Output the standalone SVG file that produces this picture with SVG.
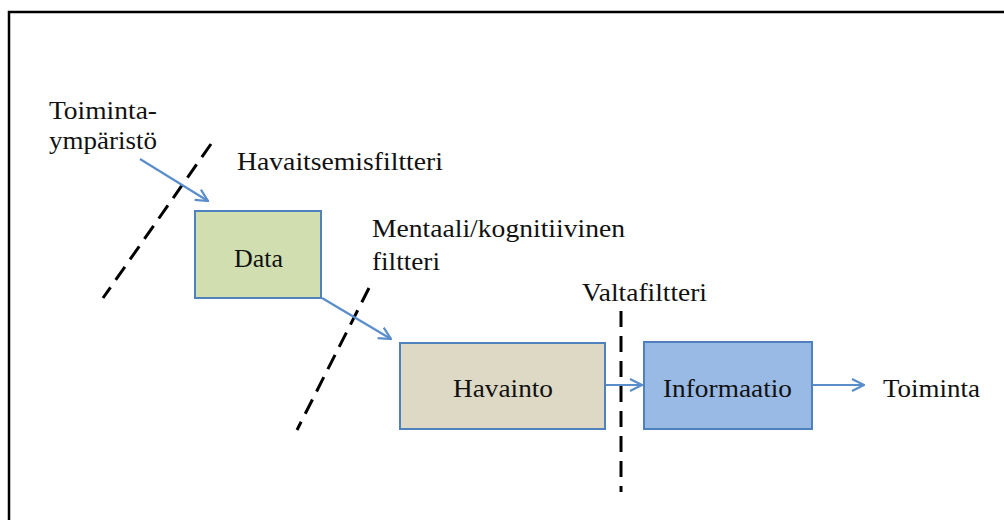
<svg xmlns="http://www.w3.org/2000/svg" width="1004" height="520" viewBox="0 0 1004 520">
<style>
text{font-family:"Liberation Serif","Times New Roman",serif;font-size:26px;fill:#111;}
.box{stroke:#4f81bd;stroke-width:2;}
.conn{stroke:#5a8ecb;stroke-width:2.2;fill:none;}
.filter{stroke:#000;stroke-width:3;stroke-dasharray:16 9;fill:none;}
</style>
<defs>
<marker id="arr" viewBox="0 0 14 14" refX="13" refY="7" markerWidth="14" markerHeight="14" markerUnits="userSpaceOnUse" orient="auto">
<path d="M1,1 L13,7 L1,13" fill="none" stroke="#5a8ecb" stroke-width="2.2"/>
</marker>
</defs>
<rect width="1004" height="520" fill="#fff"/>
<path d="M9,520 V12 H1004" fill="none" stroke="#000" stroke-width="2.5"/>

<g id="filters">
<line class="filter" x1="211" y1="144" x2="103" y2="298"/>
<line class="filter" x1="369" y1="288" x2="297" y2="430"/>
<line class="filter" x1="621" y1="311" x2="621" y2="492"/>
</g>

<g id="connectors">
<line class="conn" x1="140" y1="159" x2="208" y2="201" marker-end="url(#arr)"/>
<line class="conn" x1="322" y1="298" x2="391" y2="339" marker-end="url(#arr)"/>
<line class="conn" x1="606" y1="385" x2="642" y2="385" marker-end="url(#arr)"/>
<line class="conn" x1="813" y1="385" x2="864" y2="385" marker-end="url(#arr)"/>
</g>

<g id="node-data">
<rect class="box" x="195" y="211" width="126" height="87" fill="#d0deb0"/>
<text x="234" y="267" textLength="49" lengthAdjust="spacingAndGlyphs">Data</text>
</g>
<g id="node-havainto">
<rect class="box" x="400" y="343" width="205" height="86" fill="#ddd9c4"/>
<text x="453" y="397" textLength="100" lengthAdjust="spacingAndGlyphs">Havainto</text>
</g>
<g id="node-informaatio">
<rect class="box" x="644" y="342" width="168" height="87" fill="#98bae4"/>
<text x="663" y="397" textLength="129" lengthAdjust="spacingAndGlyphs">Informaatio</text>
</g>

<g id="labels">
<text x="49" y="119" textLength="108" lengthAdjust="spacingAndGlyphs">Toiminta-</text>
<text x="49" y="149" textLength="108" lengthAdjust="spacingAndGlyphs">ympäristö</text>
<text x="237" y="170" textLength="206" lengthAdjust="spacingAndGlyphs">Havaitsemisfiltteri</text>
<text x="372" y="237" textLength="253" lengthAdjust="spacingAndGlyphs">Mentaali/kognitiivinen</text>
<text x="372" y="270" textLength="68" lengthAdjust="spacingAndGlyphs">filtteri</text>
<text x="582" y="301" textLength="125" lengthAdjust="spacingAndGlyphs">Valtafiltteri</text>
<text x="883" y="397" textLength="97" lengthAdjust="spacingAndGlyphs">Toiminta</text>
</g>
</svg>
